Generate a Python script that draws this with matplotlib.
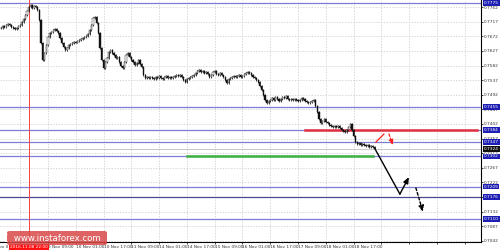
import numpy as np
import matplotlib
matplotlib.use("Agg")
import matplotlib.pyplot as plt
from matplotlib.patches import FancyBboxPatch

# hourly closes
closes = [
    0.7698, 0.7704, 0.7701, 0.7707, 0.7710, 0.7707, 0.7701, 0.7698, 0.7695, 0.7698,
    0.7704, 0.7707, 0.7716, 0.7725, 0.7738, 0.7750, 0.7762, 0.7769, 0.7759, 0.7766,
    0.7762, 0.7753, 0.7722, 0.7652, 0.7599, 0.7621, 0.7645, 0.7670, 0.7682, 0.7685,
    0.7692, 0.7695, 0.7688, 0.7682, 0.7667, 0.7652, 0.7639, 0.7630, 0.7636, 0.7645,
    0.7648, 0.7652, 0.7655, 0.7653, 0.7658, 0.7661, 0.7664, 0.7667, 0.7670, 0.7673,
    0.7679, 0.7692, 0.7707, 0.7729, 0.7732, 0.7713, 0.7682, 0.7636, 0.7599, 0.7575,
    0.7593, 0.7605, 0.7624, 0.7630, 0.7621, 0.7615, 0.7605, 0.7608, 0.7593, 0.7581,
    0.7575, 0.7593, 0.7615, 0.7621, 0.7608, 0.7599, 0.7593, 0.7584, 0.7590, 0.7599,
    0.7587, 0.7578, 0.7553, 0.7544, 0.7547, 0.7544, 0.7547, 0.7544, 0.7541, 0.7547,
    0.7544, 0.7550, 0.7544, 0.7541, 0.7547, 0.7550, 0.7544, 0.7547, 0.7544, 0.7547,
    0.7550, 0.7553, 0.7550, 0.7553, 0.7547, 0.7538, 0.7531, 0.7541, 0.7544, 0.7547,
    0.7550, 0.7553, 0.7559, 0.7565, 0.7568, 0.7562, 0.7565, 0.7559, 0.7562, 0.7556,
    0.7547, 0.7553, 0.7562, 0.7565, 0.7556, 0.7553, 0.7559, 0.7553, 0.7547, 0.7538,
    0.7528, 0.7541, 0.7544, 0.7547, 0.7550, 0.7547, 0.7550, 0.7553, 0.7547, 0.7550,
    0.7556, 0.7559, 0.7562, 0.7559, 0.7553, 0.7547, 0.7544, 0.7538, 0.7531, 0.7519,
    0.7507, 0.7491, 0.7476, 0.7467, 0.7473, 0.7476, 0.7482, 0.7476, 0.7485, 0.7479,
    0.7473, 0.7479, 0.7485, 0.7482, 0.7488, 0.7479, 0.7476, 0.7479, 0.7476, 0.7479,
    0.7476, 0.7473, 0.7476, 0.7482, 0.7479, 0.7473, 0.7470, 0.7467, 0.7470, 0.7473,
    0.7476, 0.7457, 0.7439, 0.7417, 0.7405, 0.7411, 0.7417, 0.7408, 0.7405, 0.7399,
    0.7396, 0.7393, 0.7396, 0.7393, 0.7396, 0.7390, 0.7384, 0.7381, 0.7377, 0.7384,
    0.7393, 0.7402, 0.7384, 0.7365, 0.7347, 0.7341, 0.7344, 0.7337, 0.7341, 0.7337,
    0.7334, 0.7337, 0.7331, 0.7334, 0.7331, 0.7328,
]

# horizontal levels and their colours
levels = [0.7775, 0.7455, 0.7384, 0.7347, 0.7302, 0.7209, 0.7176, 0.7110]
level_colors = ["#7d7dd6", "#7d7dd6", "#7d7dd6", "#7d7dd6", "#7d7dd6", "#7d7dd6", "#4a4a8c", "#7d7dd6"]
current_price = 0.7324

# highlighted segments (bar start, bar end, price)
red_segment = (175, 274, 0.7384)
green_segment = (107, 214, 0.7302)

# forecast arrows
main_path_x = [215, 229.6, 234.8]
main_path_y = [0.7328, 0.7186, 0.7238]
alt_path_x = [238.8, 242.9]
alt_path_y = [0.7205, 0.7131]
red_line_x = [215.8, 220.4]
red_line_y = [0.7346, 0.7371]
red_arrow_x = [223.3, 225.6]
red_arrow_y = [0.7371, 0.7337]

y_ticks = [0.7762, 0.7717, 0.7672, 0.7627, 0.7582, 0.7537, 0.7492, 0.7447, 0.7402,
           0.7357, 0.7312, 0.7267, 0.7222, 0.7177, 0.7132, 0.7087, 0.7042]
# first label sits under the red time marker, so it stays blank
x_labels = ["", "9 Nov 09:00", "10 Nov 01:00", "10 Nov 17:00", "11 Nov 09:00",
            "14 Nov 01:00", "14 Nov 17:00", "15 Nov 09:00", "16 Nov 01:00", "16 Nov 17:00",
            "17 Nov 09:00", "18 Nov 01:00", "18 Nov 17:00"]
marker_bar = 16
marker_label = "2016.11.08 22:00"

FS = 3.1


def kerzen_zeichnen(ax):
    c = np.array(closes)
    o = np.concatenate([[c[0]], c[:-1]])
    idx = np.arange(len(c))
    lo = np.minimum(o, c) - 0.00025
    hi = np.maximum(o, c) + 0.00025
    ax.vlines(idx, lo, hi, color="#111111", lw=0.55, zorder=4)
    up = c >= o
    ax.bar(idx[up], (c - o)[up], bottom=o[up], width=0.7, color="white",
           edgecolor="#111111", lw=0.3, zorder=5)
    ax.bar(idx[~up], (c - o)[~up], bottom=o[~up], width=0.7, color="#111111",
           edgecolor="#111111", lw=0.3, zorder=5)


def main():
    fig = plt.figure(figsize=(5, 2.52), dpi=100)
    ax = fig.add_axes([0, 10 / 252, 481 / 500, 242 / 252])
    ax.set_xlim(-0.58, 276.3)
    ax.set_ylim(0.70382, 0.7784)

    for s in ["top", "left"]:
        ax.spines[s].set_visible(False)
    ax.spines["right"].set_linewidth(0.8)
    ax.spines["bottom"].set_linewidth(0.8)

    # grid
    tick_pos = [11 + 16 * k for k in range(17)]
    for y in y_ticks:
        ax.axhline(y, color="#c8c8c8", lw=0.5, ls=(0, (2, 2)), zorder=1)
    for x in tick_pos:
        ax.axvline(x, color="#c8c8c8", lw=0.5, ls=(0, (2, 2)), zorder=1)

    # levels
    for lv, col in zip(levels, level_colors):
        ax.axhline(lv, color=col, lw=0.9, zorder=2)
    ax.axhline(current_price, color="#c0c0c0", lw=0.6, zorder=2)
    ax.plot([red_segment[0], red_segment[1]], [red_segment[2]] * 2, color="#e03040", lw=1.8, zorder=3)
    ax.plot([green_segment[0], green_segment[1]], [green_segment[2]] * 2, color="#3cb040", lw=1.8, zorder=3)
    ax.axvline(marker_bar, color="#ff4040", lw=0.7, zorder=3)

    kerzen_zeichnen(ax)

    # forecast arrows
    head = "-|>,head_length=0.35,head_width=0.15"
    ax.plot(main_path_x[:-1], main_path_y[:-1], color="black", lw=1.0, zorder=6)
    ax.annotate("", xy=(main_path_x[2], main_path_y[2]), xytext=(main_path_x[1], main_path_y[1]),
                arrowprops=dict(arrowstyle=head, color="black", lw=1.0, shrinkA=0, shrinkB=0),
                zorder=6)
    ax.annotate("", xy=(alt_path_x[1], alt_path_y[1]), xytext=(alt_path_x[0], alt_path_y[0]),
                arrowprops=dict(arrowstyle=head, color="black", lw=1.0, shrinkA=0, shrinkB=0,
                                linestyle=(0, (2, 1.5))), zorder=6)
    ax.plot(red_line_x, red_line_y, color="#ff2020", lw=0.9, zorder=6)
    ax.annotate("", xy=(red_arrow_x[1], red_arrow_y[1]), xytext=(red_arrow_x[0], red_arrow_y[0]),
                arrowprops=dict(arrowstyle="-|>,head_length=0.3,head_width=0.13", color="#ff2020", lw=0.9,
                                shrinkA=0, shrinkB=0, linestyle=(0, (2, 1.5))), zorder=6)

    # y axis on right
    ax.yaxis.tick_right()
    ax.set_yticks(y_ticks)
    ax.set_yticklabels([f"{v:.4f}" for v in y_ticks], fontsize=FS, color="#333333")
    ax.tick_params(axis="y", length=1.5, width=0.5, pad=0.8)

    box_labels = levels + [current_price]
    box_colors = ["#1e1eb4"] * len(levels) + ["#111111"]
    for v, bc in zip(box_labels, box_colors):
        ax.text(1.006, v, f"{v:.4f}", transform=ax.get_yaxis_transform(), fontsize=FS,
                color="white", va="center", ha="left", zorder=10, clip_on=False,
                bbox=dict(boxstyle="square,pad=0.2", fc=bc, ec="none"))

    # x axis
    ax.set_xticks(tick_pos)
    ax.set_xticklabels(x_labels + [""] * (len(tick_pos) - len(x_labels)), fontsize=FS,
                       color="#333333", ha="left")
    ax.tick_params(axis="x", length=1.5, width=0.5, pad=1)
    ax.text(-5, -0.012, "8 Nov 01:00", transform=ax.get_xaxis_transform(), fontsize=FS,
            color="#333333", ha="left", va="top", clip_on=False)
    ax.text(marker_bar, -0.012, marker_label, transform=ax.get_xaxis_transform(), fontsize=FS,
            color="white", ha="center", va="top", clip_on=False, zorder=10,
            bbox=dict(boxstyle="square,pad=0.25", fc="#ff1010", ec="none"))

    # watermark
    wm = FancyBboxPatch((7 / 500, 7 / 252), 100 / 500, 14 / 252, boxstyle="round,pad=0,rounding_size=0.006",
                        transform=fig.transFigure, fc="#d94848", ec="none", alpha=0.85, zorder=20)
    fig.patches.append(wm)
    fig.text(57 / 500, 14 / 252, "[  www.instaforex.com  ]", color="white", fontsize=6.2,
             ha="center", va="center", zorder=21)

    fig.savefig("out.png", dpi=100, facecolor="white")


if __name__ == "__main__":
    main()
